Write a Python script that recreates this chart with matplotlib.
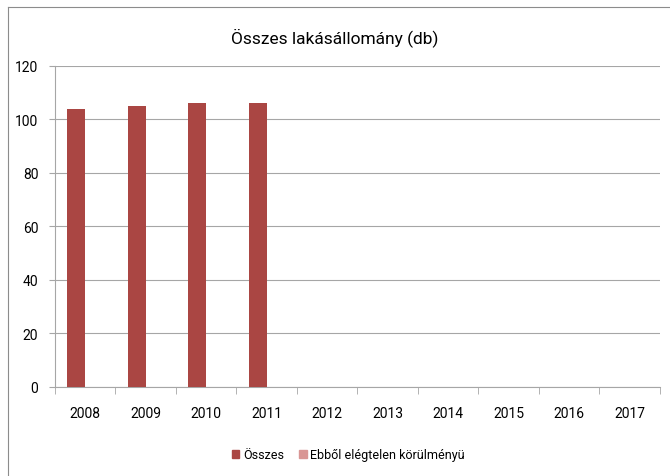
import matplotlib

matplotlib.use("Agg")
import matplotlib.pyplot as plt
import numpy as np
from matplotlib.lines import Line2D
from matplotlib.patches import Patch

# narrow-ish sans as stand-in for the Calibri look of the original
plt.rcParams["font.family"] = ["Roboto", "DejaVu Sans"]

years = ["2008", "2009", "2010", "2011", "2012", "2013", "2014", "2015", "2016", "2017"]
osszes = [104, 105, 106, 106, 0, 0, 0, 0, 0, 0]
elegtelen = [0, 0, 0, 0, 0, 0, 0, 0, 0, 0]
series_names = ["Összes", "Ebből elégtelen körülményü"]

C_OSSZES = "#AA4643"
C_ELEG = "#D99694"
GRID = "#A6A6A6"

fig = plt.figure(figsize=(6.7, 4.77), dpi=100)
ax = fig.add_axes([0.082, 0.1866, 0.903, 0.673])

x = np.arange(len(years))
w = 0.3
ax.bar(x - w / 2, osszes, width=w, color=C_OSSZES, zorder=3)
ax.bar(x + w / 2, elegtelen, width=w, color=C_ELEG, zorder=3)

ax.set_xlim(-0.5, len(years) - 0.5)
ax.set_ylim(0, 120)
ax.set_yticks(range(0, 121, 20))
ax.yaxis.grid(True, color=GRID, linewidth=0.8, zorder=0)
ax.set_xticks(x)
ax.set_xticklabels(years, fontsize=10)
ax.tick_params(axis="x", length=0, pad=14)
ax.tick_params(axis="y", labelsize=10, length=4, color=GRID, pad=8)
# category separator ticks under the x axis
ax.set_xticks(np.arange(-0.5, len(years)), minor=True)
ax.tick_params(axis="x", which="minor", length=5, color=GRID)

for s in ["top", "right"]:
    ax.spines[s].set_visible(False)
for s in ["left", "bottom"]:
    ax.spines[s].set_color(GRID)

# title is centred on the whole chart area, not the plot area
fig.text(0.5, 1 - 38 / 477, "Összes lakásállomány (db)", fontsize=12.5,
         ha="center", va="center")

handles = [Patch(color=C_OSSZES), Patch(color=C_ELEG)]
fig.legend(handles, series_names, loc="center",
           bbox_to_anchor=(0.52, 0.045), ncol=2, frameon=False, fontsize=9,
           handlelength=0.6, handleheight=0.6, handletextpad=0.3, columnspacing=1.2)

# outer chart frame (cropped)
fig.add_artist(Line2D([8 / 670, 1], [1 - 8 / 477, 1 - 8 / 477], color="#8C8C8C", lw=0.8))
fig.add_artist(Line2D([8 / 670, 8 / 670], [0, 1 - 8 / 477], color="#8C8C8C", lw=0.8))

fig.savefig("out.png", dpi=100)
